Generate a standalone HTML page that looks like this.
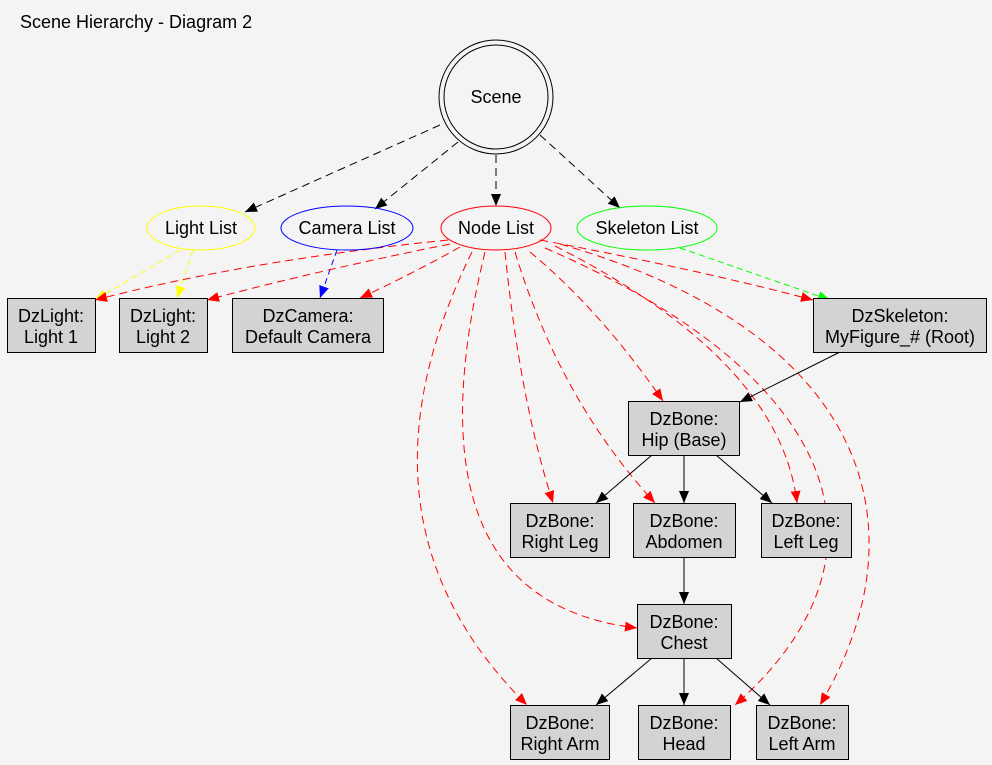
<!DOCTYPE html>
<html><head><meta charset="utf-8"><style>
html,body{margin:0;padding:0;background:#f4f4f4;}
svg{display:block;font-family:"Liberation Sans",sans-serif;}
</style></head><body>
<svg width="992" height="765" viewBox="0 0 992 765">
<defs>
<marker id="mk" markerWidth="12" markerHeight="10" refX="12" refY="5" orient="auto" markerUnits="userSpaceOnUse"><path d="M0,0 L12,5 L0,10z" fill="#000"/></marker>
<marker id="mr" markerWidth="12" markerHeight="10" refX="12" refY="5" orient="auto" markerUnits="userSpaceOnUse"><path d="M0,0 L12,5 L0,10z" fill="#f00"/></marker>
<marker id="my" markerWidth="12" markerHeight="10" refX="12" refY="5" orient="auto" markerUnits="userSpaceOnUse"><path d="M0,0 L12,5 L0,10z" fill="#ff0"/></marker>
<marker id="mb" markerWidth="12" markerHeight="10" refX="12" refY="5" orient="auto" markerUnits="userSpaceOnUse"><path d="M0,0 L12,5 L0,10z" fill="#00f"/></marker>
<marker id="mg" markerWidth="12" markerHeight="10" refX="12" refY="5" orient="auto" markerUnits="userSpaceOnUse"><path d="M0,0 L12,5 L0,10z" fill="#0f0"/></marker>
</defs>
<rect width="992" height="765" fill="#f4f4f4"/>
<text x="20" y="28" font-size="18">Scene Hierarchy - Diagram 2</text>

<g fill="none" stroke-width="1">
<g stroke="#000" stroke-dasharray="8,5" marker-end="url(#mk)">
<path d="M440,125 L245,212"/>
<path d="M458,142 L375,209"/>
<path d="M496,155 L496,206"/>
<path d="M540,135 L620,208"/>
</g>
<path d="M193,250 L177,298" stroke="#ff0" stroke-dasharray="6,4" marker-end="url(#my)"/>
<path d="M180,250 L95,300" stroke="#ff0" stroke-dasharray="6,4" marker-end="url(#my)"/>
<path d="M337,250 L320,298" stroke="#00f" stroke-dasharray="6,4" marker-end="url(#mb)"/>
<path d="M680,248 L830,300" stroke="#0f0" stroke-dasharray="6,4" marker-end="url(#mg)"/>
<g stroke="#f00" stroke-dasharray="8,5" marker-end="url(#mr)">
<path d="M448,240 Q250,260 95,300"/>
<path d="M450,244 Q320,270 207,300"/>
<path d="M460,247 Q410,275 360,298"/>
<path d="M540,240 Q700,270 813,300"/>
<path d="M530,252 Q600,310 663,401"/>
<path d="M505,252 Q520,400 553,503"/>
<path d="M515,252 Q560,400 655,503"/>
<path d="M555,246 Q780,360 797,503"/>
<path d="M472,252 Q340,520 527,705"/>
<path d="M485,252 Q400,600 637,628"/>
<path d="M545,248 C850,380 900,560 735,705"/>
<path d="M560,244 C860,330 930,520 820,705"/>
</g>
<g stroke="#000" marker-end="url(#mk)">
<path d="M840,352 L740,402"/>
<path d="M652,455 L596,503"/>
<path d="M684,455 L684,503"/>
<path d="M716,455 L772,503"/>
<path d="M684,557 L684,604"/>
<path d="M652,658 L596,705"/>
<path d="M684,658 L684,705"/>
<path d="M716,658 L770,705"/>
</g>
</g>

<circle cx="496" cy="97" r="57" fill="none" stroke="#000"/>
<circle cx="496" cy="97" r="52" fill="none" stroke="#000"/>
<text x="496" y="103" font-size="18" text-anchor="middle">Scene</text>

<g font-size="18" text-anchor="middle">
<ellipse cx="201" cy="228" rx="54" ry="22" fill="none" stroke="#ff0"/>
<text x="201" y="234">Light List</text>
<ellipse cx="347" cy="228" rx="66" ry="22" fill="none" stroke="#00f"/>
<text x="347" y="234">Camera List</text>
<ellipse cx="496" cy="228" rx="55" ry="22" fill="none" stroke="#f00"/>
<text x="496" y="234">Node List</text>
<ellipse cx="647" cy="228" rx="70" ry="22" fill="none" stroke="#0f0"/>
<text x="647" y="234">Skeleton List</text>
</g>

<g font-size="18" text-anchor="middle">
<g fill="#d3d3d3" stroke="#000">
<rect x="7.5" y="298.5" width="88" height="54"/>
<rect x="119.5" y="298.5" width="88" height="54"/>
<rect x="232.5" y="298.5" width="151" height="54"/>
<rect x="813.5" y="298.5" width="173" height="54"/>
<rect x="628.5" y="401.5" width="111" height="54"/>
<rect x="510.5" y="503.5" width="99" height="54"/>
<rect x="633.5" y="503.5" width="102" height="54"/>
<rect x="761.5" y="503.5" width="90" height="54"/>
<rect x="637.5" y="604.5" width="94" height="54"/>
<rect x="510.5" y="705.5" width="99" height="54"/>
<rect x="638.5" y="705.5" width="92" height="54"/>
<rect x="756.5" y="705.5" width="92" height="54"/>
</g>
<text x="51" y="322">DzLight:</text><text x="51" y="343">Light 1</text>
<text x="163" y="322">DzLight:</text><text x="163" y="343">Light 2</text>
<text x="308" y="322">DzCamera:</text><text x="308" y="343">Default Camera</text>
<text x="900" y="322">DzSkeleton:</text><text x="900" y="343">MyFigure_# (Root)</text>
<text x="684" y="425">DzBone:</text><text x="684" y="446">Hip (Base)</text>
<text x="560" y="527">DzBone:</text><text x="560" y="548">Right Leg</text>
<text x="684" y="527">DzBone:</text><text x="684" y="548">Abdomen</text>
<text x="806" y="527">DzBone:</text><text x="806" y="548">Left Leg</text>
<text x="684" y="628">DzBone:</text><text x="684" y="649">Chest</text>
<text x="560" y="729">DzBone:</text><text x="560" y="750">Right Arm</text>
<text x="684" y="729">DzBone:</text><text x="684" y="750">Head</text>
<text x="802" y="729">DzBone:</text><text x="802" y="750">Left Arm</text>
</g>
</svg>
</body></html>
